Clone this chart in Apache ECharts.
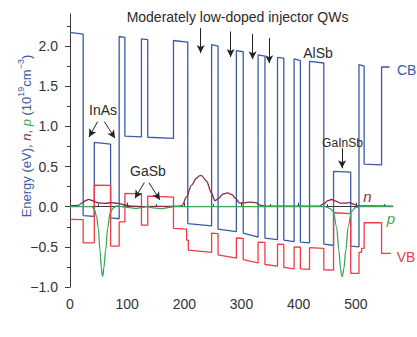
<!DOCTYPE html>
<html><head><meta charset="utf-8">
<script src="https://cdn.jsdelivr.net/npm/echarts@6/dist/echarts.min.js"></script>
<style>html,body{margin:0;padding:0;background:#fff}#c{width:417px;height:337px}</style>
</head><body><div id="c"></div>
<script>
// ---- axis ticks ----
const xTicks = [0, 100, 200, 300, 400, 500];
const xMinorTicks = [50, 150, 250, 350, 450, 550];
const yTicks = [-1.0, -0.5, 0, 0.5, 1.0, 1.5, 2.0];
const yMinorTicks = [-0.75, -0.25, 0.25, 0.75, 1.25, 1.75, 2.25];

// ---- conduction band (eV) ----
const cb = [[0,2.17],[23,2.15],[23,-0.11],[42.5,-0.12],[42.5,0.80],[71,0.78],[71,-0.14],[86,-0.15],
  [86,2.12],[96,2.11],[96,0.88],[125,0.87],[125,2.09],[136,2.08],[136,0.865],[181,0.85],
  [181,2.07],[206,2.05],[206,-0.21],[247.7,-0.24],[247.7,2.02],[259,2.00],[259,-0.28],[291,-0.31],
  [291,1.945],[303,1.93],[303,-0.33],[329,-0.38],[329,1.89],[341,1.875],[341,-0.39],[363,-0.41],
  [363,1.86],[374,1.85],[374,-0.415],[392,-0.435],[392,1.84],[403,1.82],[403,-0.44],[419,-0.45],
  [419,1.81],[444,1.79],[444,-0.465],[461,-0.48],[461,0.44],[491,0.43],[491,-0.49],[505.5,-0.5],
  [505.5,1.77],[514.5,1.75],[514.5,0.53],[545,0.52],[545,1.74],[559,1.74]];

// ---- valence band (eV) ----
const vb = [[0,-0.157],[23,-0.16],[23,-0.45],[42.5,-0.45],[42.5,0.27],[71,0.265],[71,-0.49],[86,-0.49],
  [86,-0.19],[96,-0.19],[96,0.165],[125,0.16],[125,-0.23],[136,-0.23],[136,0.133],[181,0.12],
  [181,-0.27],[204,-0.28],[204,-0.415],[207,-0.415],[207,-0.54],[247.7,-0.57],[247.7,-0.33],[259,-0.335],
  [259,-0.60],[291,-0.64],[291,-0.39],[303,-0.395],[303,-0.66],[329,-0.70],[329,-0.44],[341,-0.445],
  [341,-0.72],[363,-0.74],[363,-0.465],[374,-0.47],[374,-0.755],[392,-0.775],[392,-0.50],[403,-0.505],
  [403,-0.775],[419,-0.78],[419,-0.51],[444,-0.52],[444,-0.785],[461,-0.79],[461,-0.075],[491,-0.085],
  [491,-0.83],[505.5,-0.83],[505.5,-0.57],[510,-0.57],[510,-0.52],[514.5,-0.52],[514.5,-0.20],[545,-0.20],
  [545,-0.58],[561,-0.58]];

// ---- electron density n (1e19 cm^-3) ----
const nDens = [[0,0.01],[14,0.015],[23,0.055],[28,0.08],[33,0.092],[38,0.08],[44,0.06],[50,0.046],
  [61,0.042],[73,0.05],[84,0.042],[96,0.021],[108,0.008],[131,0.002],[166,0.004],[190,0.006],
  [196,0.014],[204,0.125],[212.6,0.27],[221,0.354],[226,0.385],[230,0.388],[238.6,0.32],[247.7,0.167],[253.5,0.075],
  [259,0.1],[268,0.158],[276,0.172],[283,0.15],[290,0.1],[297,0.045],[306,0.048],[315,0.058],
  [325,0.05],[333,0.02],[340,0.008],[436,0.008],[444,0.035],[451,0.075],[457.5,0.09],[465,0.07],
  [472,0.045],[481,0.045],[489,0.052],[497,0.03],[504,0.01],[565,0.008]];

// ---- hole density p (plotted negative) ----
const pDens = [[0,0],[38,0],[42.5,-0.03],[46.6,-0.125],[49.5,-0.27],[52.4,-0.54],[54.8,-0.76],[56.2,-0.85],[57,-0.865],
  [57.8,-0.85],[59.2,-0.76],[62.4,-0.54],[65.9,-0.27],[70,-0.08],[75.8,-0.015],[81.6,0.01],[90,0],[104,-0.012],
  [116.5,-0.022],[126,-0.01],[134,0],[147,-0.015],[160,-0.025],[172,-0.01],[184,0],[446,0],
  [454.5,-0.02],[460.4,-0.06],[466.3,-0.25],[470.3,-0.54],[473.2,-0.77],[475.1,-0.855],[476,-0.87],[476.9,-0.855],
  [479,-0.77],[482.5,-0.54],[486.6,-0.25],[492.5,-0.06],[499.5,-0.01],[507,0],[565,0]];

// ---- annotation arrows [from, to] in data coords ----
const arrows = [
  [[228.5,2.224],[228.5,1.913]],
  [[281,2.182],[281,1.863]],
  [[319.4,2.153],[319.4,1.838]],
  [[348.4,2.10],[348.4,1.788]],
  [[48.4,1.06],[33.2,0.868]],
  [[60,1.06],[78.7,0.853]],
  [[130,0.30],[113.6,0.105]],
  [[138,0.30],[157.3,0.083]],
  [[476,0.728],[476,0.479]]
];

// ---- annotation labels ----
const labelTexts = ['Moderately low-doped injector QWs','InAs','GaSb','AlSb','GaInSb','CB','VB','n','p'];
const labelPos = [[293,2.362],[57.7,1.204],[136.4,0.448],[433.8,1.91],[476.6,0.793],[572,1.70],[571.5,-0.623],[520.4,0.125],[561.5,-0.145]];

const FONT = "'Liberation Sans', Arial, Helvetica, sans-serif";
const C_CB = '#3a5aa6', C_VB = '#f03a48', C_N = '#8a2c40', C_P = '#3aa858';
const labelStyles = [
  {fill:'#2a2a2a', fontSize:14, align:'center'},
  {fill:'#2a2a2a', fontSize:14, align:'center'},
  {fill:'#2a2a2a', fontSize:14, align:'center'},
  {fill:'#2a2a2a', fontSize:14, align:'center'},
  {fill:'#2a2a2a', fontSize:12, align:'center'},
  {fill:C_CB, fontSize:14, align:'left'},
  {fill:C_VB, fontSize:14, align:'left'},
  {fill:C_N, fontSize:15, align:'center', fontStyle:'italic'},
  {fill:C_P, fontSize:15, align:'center', fontStyle:'italic'}
];

const chart = echarts.init(document.getElementById('c'), null, {renderer:'svg'});
const axisCol = '#3a3a3a';
const lineSeries = (name, data, color, extra) => Object.assign({
  name, type:'line', data, showSymbol:false, symbol:'none', silent:true,
  lineStyle:{color, width:1.3}, itemStyle:{color}, animation:false, z:2
}, extra || {});

chart.setOption({
  animation:false,
  grid:{left:70, right:24, top:14, bottom:50},
  xAxis:[{
    type:'value', min:0, max:565,
    axisLine:{show:true, lineStyle:{color:axisCol, width:1}},
    axisTick:{show:true, inside:true, length:4, customValues:xTicks, lineStyle:{color:axisCol}},
    axisLabel:{customValues:xTicks, fontSize:14, color:'#333', fontFamily:FONT, margin:10},
    splitLine:{show:false}
  },{
    type:'value', min:0, max:565, position:'bottom',
    axisLine:{show:false},
    axisTick:{show:true, inside:true, length:2.5, customValues:xMinorTicks, lineStyle:{color:axisCol}},
    axisLabel:{show:false}, splitLine:{show:false}
  }],
  yAxis:[{
    type:'value', min:-1, max:2.4,
    axisLine:{show:true, lineStyle:{color:axisCol, width:1}},
    axisTick:{show:true, inside:false, length:5, customValues:yTicks, lineStyle:{color:axisCol}},
    axisLabel:{customValues:yTicks, fontSize:14, color:'#333', fontFamily:FONT, margin:12,
      formatter:v => v.toFixed(1).replace('-', '\u2212')},
    splitLine:{show:false}
  },{
    type:'value', min:-1, max:2.4, position:'left',
    axisLine:{show:false},
    axisTick:{show:true, inside:false, length:3, customValues:yMinorTicks, lineStyle:{color:axisCol}},
    axisLabel:{show:false}, splitLine:{show:false}
  }],
  series:[
    lineSeries('CB', cb, C_CB),
    lineSeries('VB', vb, C_VB),
    lineSeries('n', nDens, C_N, {smooth:0.35, smoothMonotone:'x', z:3}),
    lineSeries('p', pDens, C_P, {smooth:0.35, smoothMonotone:'x', z:4}),
    {type:'line', name:'arrows', data:[], silent:true,
     markLine:{silent:true, animation:false, symbol:['none','arrow'], symbolSize:[6,8],
       lineStyle:{color:'#222', width:1, type:'solid'}, label:{show:false},
       emphasis:{disabled:true},
       data: arrows.map(a => [{coord:a[0]}, {coord:a[1]}])}}
  ]
});

const graphics = labelTexts.map((t, i) => {
  const p = chart.convertToPixel({seriesIndex:0}, labelPos[i]);
  const s = labelStyles[i];
  return {type:'text', x:p[0], y:p[1], silent:true, z:10,
    style:{text:t, fill:s.fill, fontSize:s.fontSize, fontFamily:FONT, fontStyle:s.fontStyle || 'normal',
      align:s.align, verticalAlign:'middle'}};
});
// y-axis title
const yt = chart.convertToPixel({seriesIndex:0}, [0, 0.88]);
graphics.push({type:'text', x:26, y:yt[1], rotation:Math.PI/2, silent:true, z:10,
  style:{
    text:'{b|Energy (eV), }{n|n}{b|, }{p|p}{b| (10}{s|19}{b|cm}{s|\u22123}{b|)}',
    align:'center', verticalAlign:'middle', fontFamily:FONT,
    rich:{
      b:{fill:C_CB, fontSize:13, fontFamily:FONT, lineHeight:20},
      n:{fill:C_N, fontSize:13, fontStyle:'italic', fontFamily:FONT, lineHeight:20},
      p:{fill:C_P, fontSize:13, fontStyle:'italic', fontFamily:FONT, lineHeight:20},
      s:{fill:C_CB, fontSize:9, fontFamily:FONT, lineHeight:10, verticalAlign:'top'}
    }
  }});
chart.setOption({graphic:graphics});
</script>
</body></html>
